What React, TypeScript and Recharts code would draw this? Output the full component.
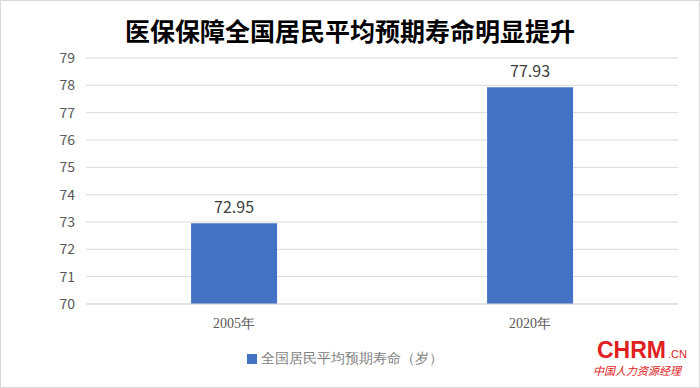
import React from "react";
import { BarChart, Bar, XAxis, YAxis, CartesianGrid, Legend, LabelList } from "recharts";

const years = ["2005年", "2020年"];
const lifeExpectancy = [72.95, 77.93];
const yTicks = [70, 71, 72, 73, 74, 75, 76, 77, 78, 79];

const data = years.map((name, i) => ({ name, value: lifeExpectancy[i] }));

const App: React.FC = () => {
  return (
    <div
      style={{
        position: "relative",
        width: 700,
        height: 388,
        boxSizing: "border-box",
        border: "1px solid #d9d9d9",
        background: "#fff",
        fontFamily: "'Noto Sans CJK SC', 'Noto Sans', sans-serif",
      }}
    >
      <style>{`body{margin:0}`}</style>
      <div
        style={{
          position: "absolute",
          top: 12,
          left: 0,
          width: 698,
          textAlign: "center",
          fontSize: 25,
          fontWeight: 700,
          color: "#000",
          lineHeight: "34px",
        }}
      >
        医保保障全国居民平均预期寿命明显提升
      </div>
      <BarChart
        width={698}
        height={386}
        data={data}
        margin={{ top: 57, right: 21, left: 0, bottom: 32 }}
        barCategoryGap="35.5%"
      >
        <CartesianGrid vertical={false} stroke="#d9d9d9" />
        <XAxis
          dataKey="name"
          tickLine={false}
          axisLine={{ stroke: "#d9d9d9" }}
          tickMargin={8}
          tick={{ fill: "#595959", fontSize: 14, fontFamily: "'Liberation Serif', serif" }}
        />
        <YAxis
          width={85}
          domain={[70, 79]}
          ticks={yTicks}
          tickLine={false}
          axisLine={false}
          tickMargin={5}
          tick={{ fill: "#595959", fontSize: 14 }}
        />
        <Legend
          iconType="square"
          iconSize={10}
          wrapperStyle={{ top: 346, left: 0, width: 698, fontSize: 14 }}
          formatter={(v: string) => (
            <span style={{ color: "#7f7f7f", fontFamily: "'Liberation Serif', serif" }}>{v}</span>
          )}
        />
        <Bar dataKey="value" name="全国居民平均预期寿命（岁）" fill="#4472C4" isAnimationActive={false}>
          <LabelList dataKey="value" position="top" offset={10} fill="#404040" fontSize={16} />
        </Bar>
      </BarChart>
      <div
        style={{
          position: "absolute",
          left: 596,
          top: 338,
          color: "#e02020",
          lineHeight: "22px",
          fontSize: 23,
          fontWeight: 700,
          fontFamily: "'Liberation Sans', sans-serif",
        }}
      >
        CHRM<span style={{ fontSize: 11, fontWeight: 400, marginLeft: 2 }}>.CN</span>
      </div>
      <div
        style={{
          position: "absolute",
          left: 592,
          top: 362,
          color: "#e02020",
          fontSize: 11,
          lineHeight: "14px",
          fontStyle: "italic",
        }}
      >
        中国人力资源经理
      </div>
    </div>
  );
};

export default App;
